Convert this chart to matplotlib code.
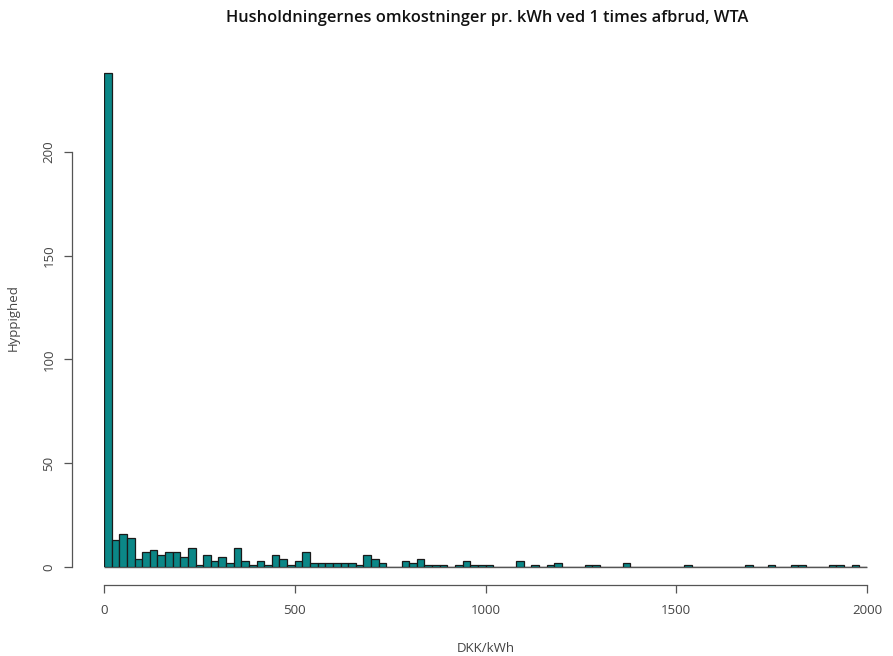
import numpy as np
import matplotlib
matplotlib.use("Agg")
import matplotlib.pyplot as plt

# Histogram data: bin edges (DKK/kWh) and counts per bin
bin_edges = np.arange(0, 2001, 20)
counts = [
    238, 13, 16, 14, 4, 7, 8, 6, 7, 7,
    5, 9, 1, 6, 3, 5, 2, 9, 3, 1,
    3, 1, 6, 4, 1, 3, 7, 2, 2, 2,
    2, 2, 2, 1, 6, 4, 2, 0, 0, 3,
    2, 4, 1, 1, 1, 0, 1, 3, 1, 1,
    1, 0, 0, 0, 3, 0, 1, 0, 1, 2,
    0, 0, 0, 1, 1, 0, 0, 0, 2, 0,
    0, 0, 0, 0, 0, 0, 1, 0, 0, 0,
    0, 0, 0, 0, 1, 0, 0, 1, 0, 0,
    1, 1, 0, 0, 0, 1, 1, 0, 1, 0,
]
x_ticks = [0, 500, 1000, 1500, 2000]
y_ticks = [0, 50, 100, 150, 200]

title = "Husholdningernes omkostninger pr. kWh ved 1 times afbrud, WTA"
xlabel = "DKK/kWh"
ylabel = "Hyppighed"

plt.rcParams['font.family'] = ['Open Sans', 'DejaVu Sans']

W, H = 893, 656
fig = plt.figure(figsize=(W / 100, H / 100), dpi=100)
px_per_unit = 415 / 200
ymax = 240
ax = fig.add_axes([104 / W, (H - 567) / H, 763 / W, ymax * px_per_unit / H])

# baseline formed by empty bins
ax.hlines(0, bin_edges[0], bin_edges[-1], color='#555555', linewidth=1.0,
          zorder=1, clip_on=False)
ax.bar(bin_edges[:-1], counts, width=20, align='edge',
       color='#0b8787', edgecolor='#1a1a1a', linewidth=0.9, zorder=2)

ax.set_xlim(0, 2000)
ax.set_ylim(0, ymax)

for s in ['top', 'right']:
    ax.spines[s].set_visible(False)
gray = '#555555'
ax.spines['bottom'].set_position(('outward', 13))
ax.spines['bottom'].set_bounds(0, 2000)
ax.spines['left'].set_position(('outward', 23))
ax.spines['left'].set_bounds(0, 200)
for s in ['bottom', 'left']:
    ax.spines[s].set_color(gray)
    ax.spines[s].set_linewidth(0.9)

ax.set_xticks(x_ticks)
ax.set_yticks(y_ticks)
ax.set_yticklabels([str(v) for v in y_ticks], rotation=90, va='center')
ax.tick_params(axis='both', direction='out', length=6, width=0.9, color=gray,
               labelcolor='#444444', labelsize=9.5)
ax.tick_params(axis='x', pad=8)
ax.tick_params(axis='y', pad=6)

ax.set_xlabel(xlabel, fontsize=9.5, color='#444444', labelpad=18)
ax.set_ylabel(ylabel, fontsize=9.5, color='#444444', labelpad=16)

fig.text(487 / W, 1 - 18 / H, title, ha='center', va='center',
         fontsize=11.8, fontweight='semibold', color='#111111')

fig.savefig("out.png", dpi=100)
